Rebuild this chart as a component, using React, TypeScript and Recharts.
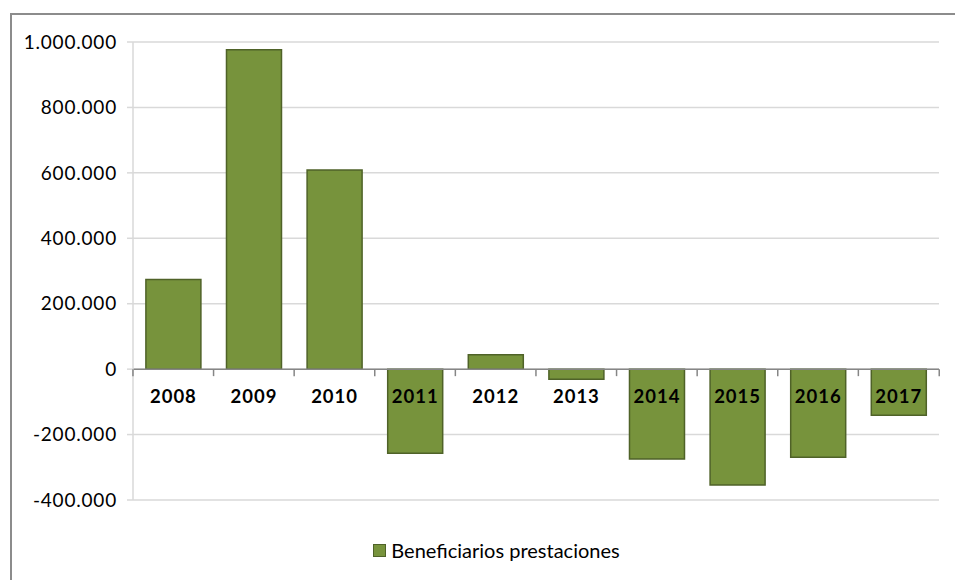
import { BarChart, Bar, XAxis, YAxis, CartesianGrid, ReferenceLine, LabelList, Legend } from 'recharts';

const years = ['2008', '2009', '2010', '2011', '2012', '2013', '2014', '2015', '2016', '2017'];
const beneficiarios = [274000, 976000, 609000, -257000, 44000, -31000, -275000, -354000, -269000, -141000];
const yTicks = [-400000, -200000, 0, 200000, 400000, 600000, 800000, 1000000];

const data = years.map((year, i) => ({ year, value: beneficiarios[i] }));

const FONT = 'Lato, "Open Sans", sans-serif';
const BAR_FILL = '#77933c';
const BAR_STROKE = '#4f6228';
const GAP = 0.16;

function fmt(v: number) {
  const s = Math.abs(v).toString().replace(/\B(?=(\d{3})+(?!\d))/g, '.');
  return v < 0 ? '-' + s : s;
}

// draws the year label just under the zero line, plus the axis tick marks between categories
function YearLabel(props: any) {
  const vb = props.viewBox ?? props;
  const x = Number(vb.x);
  const y = Number(vb.y);
  const w = Number(vb.width);
  const h = Number(vb.height);
  const v = Number(props.value);
  const idx = Number(props.index);
  const zeroY = beneficiarios[idx] >= 0 ? Math.max(y, y + h) : Math.min(y, y + h);
  const cx = x + w / 2;
  const band = w / (1 - 2 * GAP);
  return (
    <g>
      <line x1={cx - band / 2} x2={cx - band / 2} y1={zeroY} y2={zeroY + 7} stroke="#868686" strokeWidth={1.5} />
      {idx === years.length - 1 && (
        <line x1={cx + band / 2} x2={cx + band / 2} y1={zeroY} y2={zeroY + 7} stroke="#868686" strokeWidth={1.5} />
      )}
      <text
        x={cx}
        y={zeroY + 34}
        textAnchor="middle"
        fontFamily={FONT}
        fontSize={18.5}
        fontWeight={700}
        letterSpacing={1}
        fill="#000"
      >
        {years[idx] ?? v}
      </text>
    </g>
  );
}

function LegendContent() {
  return (
    <div
      style={{
        height: 20,
        paddingLeft: 38,
        display: 'flex',
        justifyContent: 'center',
        alignItems: 'center',
        fontFamily: FONT,
        fontSize: 20,
      }}
    >
      <span
        style={{
          display: 'inline-block',
          width: 11,
          height: 11,
          background: BAR_FILL,
          border: `1.5px solid ${BAR_STROKE}`,
          marginRight: 5,
        }}
      />
      <span style={{ color: '#000' }}>Beneficiarios prestaciones</span>
    </div>
  );
}

export default function App() {
  return (
    <div style={{ position: 'absolute', left: 0, top: 0, width: 955, height: 580, background: '#fff', overflow: 'hidden' }}>
      <div
        style={{
          position: 'absolute',
          left: 10,
          top: 13,
          width: 960,
          height: 600,
          borderTop: '2px solid #8c8c8c',
          borderLeft: '2px solid #8c8c8c',
        }}
      />
      <div style={{ position: 'absolute', left: 0, top: 0 }}>
        <BarChart
          width={955}
          height={580}
          data={data}
          margin={{ top: 42, right: 16, bottom: 60, left: 0 }}
          barCategoryGap={`${GAP * 100}%`}
        >
          <CartesianGrid vertical={false} stroke="#d9d9d9" strokeWidth={1.5} />
          <XAxis dataKey="year" hide />
          <YAxis
            width={133}
            domain={[-400000, 1000000]}
            ticks={yTicks}
            interval={0}
            tickFormatter={fmt}
            axisLine={{ stroke: '#d9d9d9', strokeWidth: 1.5 }}
            tickLine={{ stroke: '#d9d9d9', strokeWidth: 1.5 }}
            tickSize={6}
            tickMargin={10}
            tick={{ fontFamily: FONT, fontSize: 19, fill: '#000', letterSpacing: 0.8 }}
          />
          <Bar
            dataKey="value"
            name="Beneficiarios prestaciones"
            fill={BAR_FILL}
            stroke={BAR_STROKE}
            strokeWidth={1.5}
            isAnimationActive={false}
          >
            <LabelList dataKey="value" content={YearLabel} />
          </Bar>
          <ReferenceLine y={0} stroke="#868686" strokeWidth={1.5} />
          <Legend
            verticalAlign="bottom"
            content={LegendContent}
            wrapperStyle={{ top: 540, bottom: 'auto', left: 0, width: 955 }}
          />
        </BarChart>
      </div>
    </div>
  );
}
